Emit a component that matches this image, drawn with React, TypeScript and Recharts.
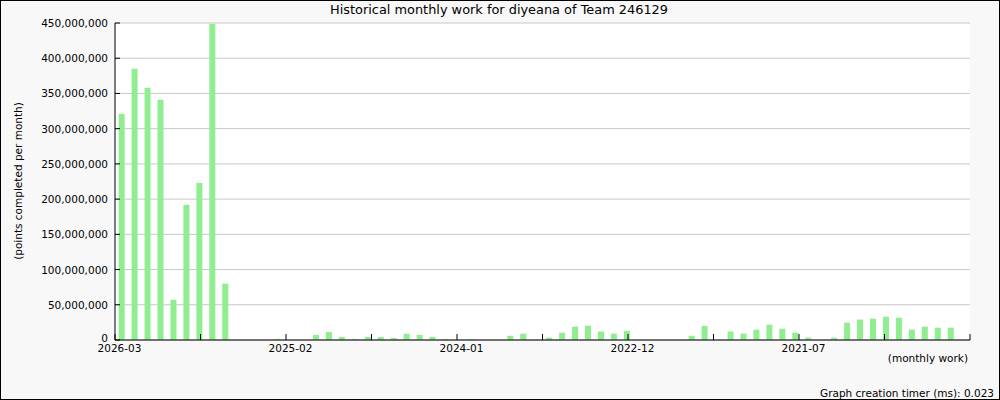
import React from "react";
import { BarChart, Bar, XAxis, YAxis, CartesianGrid } from "recharts";

const months = [
  "2026-03", "2026-02", "2026-01",
  "2025-12", "2025-11", "2025-10", "2025-09", "2025-08", "2025-07", "2025-06", "2025-05", "2025-04", "2025-03", "2025-02", "2025-01",
  "2024-12", "2024-11", "2024-10", "2024-09", "2024-08", "2024-07", "2024-06", "2024-05", "2024-04", "2024-03", "2024-02", "2024-01",
  "2023-12", "2023-11", "2023-10", "2023-09", "2023-08", "2023-07", "2023-06", "2023-05", "2023-04", "2023-03", "2023-02", "2023-01",
  "2022-12", "2022-11", "2022-10", "2022-09", "2022-08", "2022-07", "2022-06", "2022-05", "2022-04", "2022-03", "2022-02", "2022-01",
  "2021-12", "2021-11", "2021-10", "2021-09", "2021-08", "2021-07", "2021-06", "2021-05", "2021-04", "2021-03", "2021-02", "2021-01",
  "2020-12", "2020-11", "2020-10",
];

const points = [
  321000000, 385000000, 358000000, 341000000, 57000000, 192000000, 223000000, 449000000, 80000000, 0,
  0, 0, 1500000, 0, 0, 7300000, 11500000, 4400000, 1500000, 4400000,
  4300000, 3000000, 8800000, 7200000, 4300000, 1400000, 0, 1400000, 0, 0,
  6000000, 9000000, 0, 3300000, 10400000, 19000000, 20400000, 12000000, 9000000, 13000000,
  0, 0, 0, 0, 6000000, 20000000, 0, 12000000, 9000000, 14700000,
  21800000, 16000000, 10400000, 3300000, 0, 3300000, 24600000, 29000000, 30300000, 33000000,
  31700000, 14700000, 19000000, 17500000, 17500000, 0,
];

const xTickPositions = [0, 6.6, 13.2, 19.8, 26.4, 33, 39.6, 46.2, 52.8, 59.4, 66];
const xTickLabels = ["2026-03", "", "2025-02", "", "2024-01", "", "2022-12", "", "2021-07", "", ""];
const yTicks = [0, 50000000, 100000000, 150000000, 200000000, 250000000, 300000000, 350000000, 400000000, 450000000];

const title = "Historical monthly work for diyeana of Team 246129";
const yLabel = "(points completed per month)";
const xLabel = "(monthly work)";
const footer = "Graph creation timer (ms): 0.023";

const data = months.map((m, i) => ({ month: m, pos: i + 0.55, points: points[i] }));

const FONT = "DejaVu Sans, sans-serif";

const XTick = (props: any) => {
  const { x, y, index } = props;
  const label = xTickLabels[index] || "";
  return (
    <g>
      <line x1={x} x2={x} y1={y - 6} y2={y} stroke="#000" strokeWidth={1} />
      {label ? (
        <text x={x + 4.5} y={y + 12} textAnchor="middle" fontFamily={FONT} fontSize={10.5} fill="#000">
          {label}
        </text>
      ) : null}
    </g>
  );
};

const YTick = (props: any) => {
  const { x, y, payload } = props;
  const isZero = Number(payload.value) === 0;
  return (
    <g>
      <line x1={x} x2={x + 5} y1={y} y2={y} stroke="#000" strokeWidth={1} />
      <text x={x - 7} y={y + (isZero ? 2 : 4)} textAnchor="end" fontFamily={FONT} fontSize={10.5} fill="#000">
        {Number(payload.value).toLocaleString("en-US")}
      </text>
    </g>
  );
};

export default function App() {
  return (
    <div
      style={{
        position: "absolute",
        left: 0,
        top: 0,
        width: 1000,
        height: 400,
        background: "#f8f8f8",
        border: "1px solid #000",
        boxSizing: "border-box",
        overflow: "hidden",
      }}
    >
      <div style={{ position: "absolute", left: -1, top: -1 }}>
        <BarChart width={1000} height={400} data={data} margin={{ top: 23, right: 30, bottom: 0, left: 0 }}>
          <CartesianGrid horizontal vertical={false} stroke="#c8c8c8" fill="#ffffff" />
          <XAxis
            type="number"
            dataKey="pos"
            domain={[0, 66]}
            ticks={xTickPositions}
            interval={0}
            height={60}
            axisLine={{ stroke: "#000" }}
            tickLine={false}
            tickSize={0}
            tickMargin={0}
            tick={<XTick />}
            allowDecimals
          />
          <YAxis
            type="number"
            domain={[0, 450000000]}
            ticks={yTicks}
            width={115}
            axisLine={{ stroke: "#000" }}
            tickLine={false}
            tickSize={0}
            tickMargin={0}
            tick={<YTick />}
            interval={0}
          />
          <Bar dataKey="points" fill="#90ee90" barSize={6} isAnimationActive={false} />
        </BarChart>
      </div>
      <svg
        width={1000}
        height={400}
        style={{ position: "absolute", left: -1, top: -1, pointerEvents: "none" }}
      >
        <text x={499} y={14} textAnchor="middle" fontFamily={FONT} fontSize={12.9} fill="#000">
          {title}
        </text>
        <text
          x={22}
          y={181}
          textAnchor="middle"
          fontFamily={FONT}
          fontSize={10.5}
          fill="#000"
          transform="rotate(-90 22 181)"
        >
          {yLabel}
        </text>
        <text x={968} y={362} textAnchor="end" fontFamily={FONT} fontSize={10.5} fill="#000">
          {xLabel}
        </text>
        <text x={994} y={397} textAnchor="end" fontFamily={FONT} fontSize={10.5} fill="#000">
          {footer}
        </text>
      </svg>
    </div>
  );
}
